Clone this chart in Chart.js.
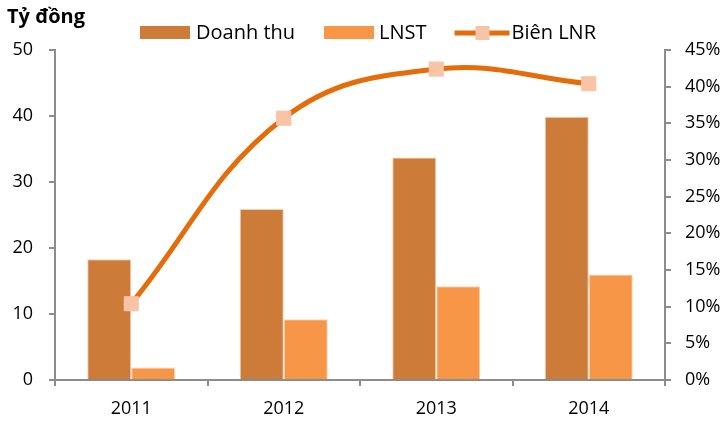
<!DOCTYPE html>
<html>
<head>
<meta charset="utf-8">
<script src="https://cdn.jsdelivr.net/npm/chart.js@4.4.0/dist/chart.umd.min.js"></script>
<style>
  html, body { margin: 0; padding: 0; background: #fff; }
  #wrap { width: 728px; height: 422px; position: relative; }
</style>
</head>
<body>
<div id="wrap"><canvas id="myChart"></canvas></div>
<script>
// số liệu
const nam = ["2011", "2012", "2013", "2014"];
const doanhThu = [18.3, 25.9, 33.7, 39.9];
const lnst = [1.9, 9.2, 14.2, 16.0];
const bienLnr = [10.4, 35.7, 42.4, 40.4];
const tenSeries = ["Doanh thu", "LNST", "Biên LNR"];
const donVi = "Tỷ đồng";

const mauDT = "#CC7B38";
const mauLNST = "#F79646";
const mauLine = "#E46C0A";
const mauDiem = "#F9C3A6";
const mauTruc = "#8C8C8C";
const font = "'Open Sans', 'Noto Sans', sans-serif";

// tiêu đề + chú thích vẽ tay ở phía trên
const headerPlugin = {
  id: "header",
  afterDraw(chart) {
    const ctx = chart.ctx;
    ctx.save();
    ctx.textBaseline = "middle";
    ctx.fillStyle = "#000";
    ctx.font = "bold 20px " + font;
    ctx.fillText(donVi, 7, 17);

    ctx.font = "20px " + font;
    const y = 33;
    let x = 140;
    // Doanh thu
    ctx.fillStyle = mauDT;
    ctx.fillRect(x, y - 7, 50, 13);
    x += 56;
    ctx.fillStyle = "#000";
    ctx.fillText(tenSeries[0], x, y);
    x += ctx.measureText(tenSeries[0]).width + 29;
    // LNST
    ctx.fillStyle = mauLNST;
    ctx.fillRect(x, y - 7, 50, 13);
    x += 55;
    ctx.fillStyle = "#000";
    ctx.fillText(tenSeries[1], x, y);
    x += ctx.measureText(tenSeries[1]).width + 28;
    // Biên LNR
    ctx.strokeStyle = mauLine;
    ctx.lineWidth = 5;
    ctx.beginPath();
    ctx.moveTo(x, y);
    ctx.lineTo(x + 55, y);
    ctx.stroke();
    ctx.fillStyle = mauDiem;
    ctx.fillRect(x + 21, y - 7, 14, 14);
    x += 57;
    ctx.fillStyle = "#000";
    ctx.fillText(tenSeries[2], x, y);
    ctx.restore();
  }
};

const myChart = document.getElementById("myChart");
new Chart(myChart, {
  type: "bar",
  data: {
    labels: nam,
    datasets: [
      {
        type: "line",
        label: tenSeries[2],
        data: bienLnr,
        yAxisID: "y1",
        borderColor: mauLine,
        borderWidth: 5,
        tension: 0.4,
        pointStyle: "rect",
        pointRadius: 10,
        pointBackgroundColor: mauDiem,
        pointBorderColor: mauDiem,
        pointBorderWidth: 1,
        fill: false,
        order: 0,
      },
      {
        label: tenSeries[0],
        data: doanhThu,
        yAxisID: "y",
        backgroundColor: mauDT,
        borderColor: "#F2CFB4",
        borderWidth: 1,
        order: 1,
      },
      {
        label: tenSeries[1],
        data: lnst,
        yAxisID: "y",
        backgroundColor: mauLNST,
        borderColor: "#FBD6BA",
        borderWidth: 1,
        order: 1,
      },
    ],
  },
  options: {
    responsive: true,
    maintainAspectRatio: false,
    animation: false,
    devicePixelRatio: 1,
    layout: { padding: { top: 50, left: 0, right: 0, bottom: 0 } },
    datasets: { bar: { categoryPercentage: 0.577, barPercentage: 1 } },
    plugins: {
      legend: { display: false },
      title: { display: false },
      tooltip: { enabled: false },
    },
    scales: {
      x: {
        grid: { drawOnChartArea: false, tickLength: 6, color: mauTruc, lineWidth: 2 },
        border: { color: mauTruc, width: 2 },
        ticks: { color: "#000", font: { family: font, size: 18 }, padding: 12 },
        afterFit(s) { s.height = 42; },
      },
      y: {
        position: "left",
        min: 0,
        max: 50,
        ticks: { stepSize: 10, color: "#000", font: { family: font, size: 18 }, padding: 16 },
        grid: { drawOnChartArea: false, tickLength: 6, color: mauTruc, lineWidth: 2 },
        border: { color: mauTruc, width: 2 },
        afterFit(s) { s.width = 55; },
      },
      y1: {
        position: "right",
        min: 0,
        max: 45,
        ticks: {
          stepSize: 5,
          color: "#000",
          font: { family: font, size: 18 },
          padding: 14,
          callback: (v) => v + "%",
        },
        grid: { drawOnChartArea: false, tickLength: 6, color: mauTruc, lineWidth: 2 },
        border: { color: mauTruc, width: 2 },
        afterFit(s) { s.width = 63; },
      },
    },
  },
  plugins: [headerPlugin],
});
</script>
</body>
</html>
